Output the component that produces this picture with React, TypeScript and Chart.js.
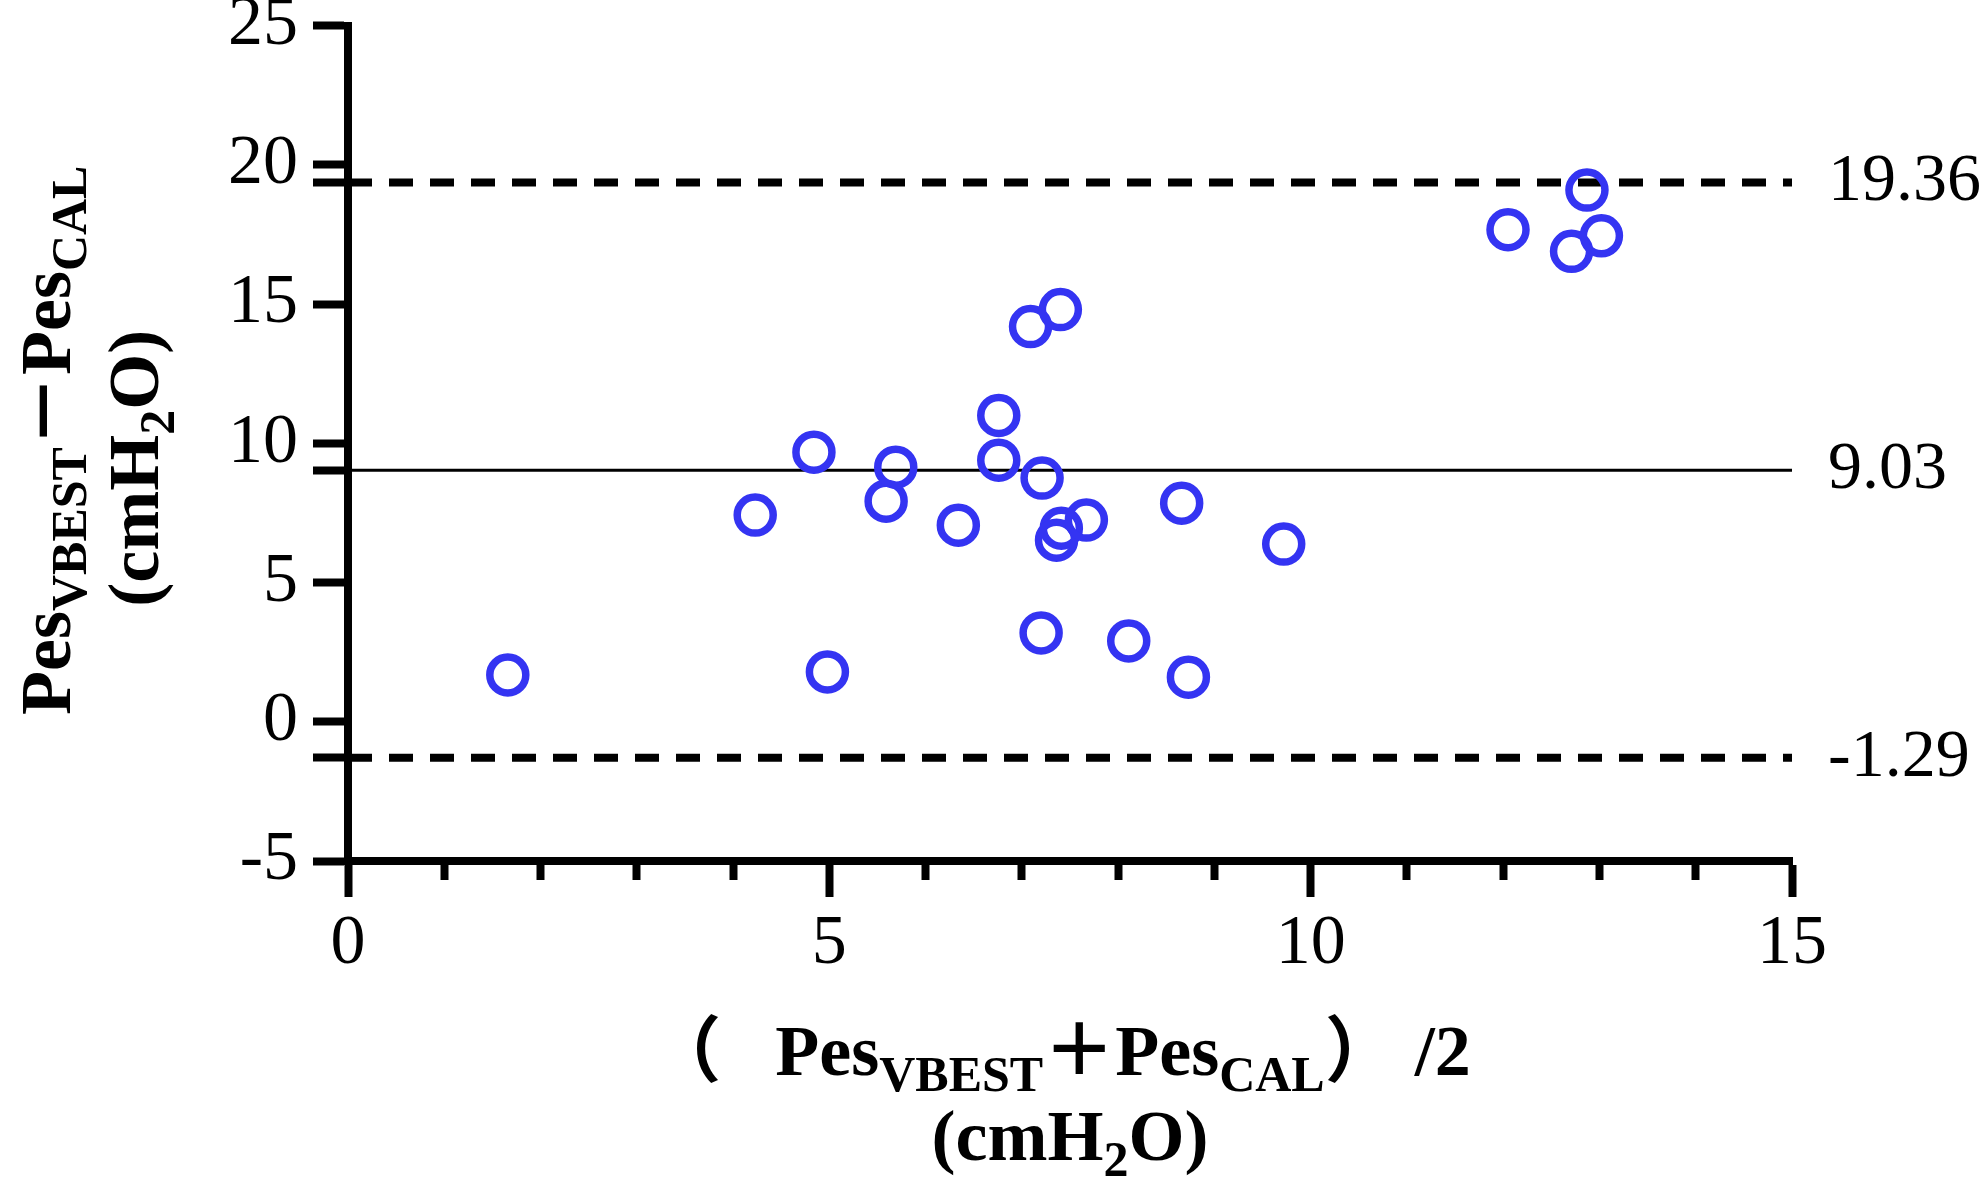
import { useEffect, useRef } from "react"
import { Chart, registerables, type ChartConfiguration, type Plugin } from "chart.js"

Chart.register(...registerables)

// Bland-Altman: mean of the two methods (x) vs their difference (y)
const meanValues = [
  1.66, 4.23, 4.84, 4.98, 5.59, 5.69, 6.34, 6.76, 6.76, 7.09, 7.4, 7.21,
  7.2, 7.41, 7.36, 7.67, 8.11, 8.66, 8.73, 9.72, 12.05, 12.71, 12.87, 13.02,
]
const diffValues = [
  1.68, 7.42, 9.68, 1.79, 7.92, 9.14, 7.06, 11.0, 9.39, 14.19, 14.8, 8.75,
  3.19, 6.95, 6.52, 7.24, 2.9, 7.85, 1.6, 6.38, 17.67, 16.89, 19.09, 17.45,
]

const upperLimit = 19.36
const meanDiff = 9.03
const lowerLimit = -1.29

const xTicks = [0, 1, 2, 3, 4, 5, 6, 7, 8, 9, 10, 11, 12, 13, 14, 15]
const xTickLabels = [0, 5, 10, 15]
const yTickLabels = [-5, 0, 5, 10, 15, 20, 25]
const limitTicks = [lowerLimit, meanDiff, upperLimit]

const serif = "'Liberation Serif', 'Times New Roman', 'Noto Sans CJK SC', serif"
const blue = "#3434f2"

type Seg = { text: string; sub?: boolean }

const xTitleTop: Seg[] = [
  { text: "（   Pes" },
  { text: "VBEST", sub: true },
  { text: "＋Pes" },
  { text: "CAL", sub: true },
  { text: "） /2" },
]
const yTitleTop: Seg[] = [
  { text: "Pes" },
  { text: "VBEST", sub: true },
  { text: "－Pes" },
  { text: "CAL", sub: true },
]
const unitTitle: Seg[] = [{ text: "(cmH" }, { text: "2", sub: true }, { text: "O)" }]

const mainFont = `bold 72px ${serif}`
const subFont = `bold 50px ${serif}`

function drawRich(ctx: CanvasRenderingContext2D, segs: Seg[], cx: number, base: number) {
  let total = 0
  const widths = segs.map((s) => {
    ctx.font = s.sub ? subFont : mainFont
    const w = ctx.measureText(s.text).width
    total += w
    return w
  })
  let x = cx - total / 2
  segs.forEach((s, i) => {
    ctx.font = s.sub ? subFont : mainFont
    ctx.fillText(s.text, x, s.sub ? base + 16 : base)
    x += widths[i]
  })
}

const titlesPlugin: Plugin = {
  id: "axisTitles",
  afterDraw(chart) {
    const { ctx, chartArea } = chart
    const mid = (chartArea.left + chartArea.right) / 2
    const midY = (chartArea.top + chartArea.bottom) / 2
    ctx.save()
    ctx.fillStyle = "#000"
    ctx.textAlign = "left"
    ctx.textBaseline = "alphabetic"
    drawRich(ctx, xTitleTop, mid - 10, chartArea.bottom + 214)
    drawRich(ctx, unitTitle, mid, chartArea.bottom + 299)

    ctx.save()
    ctx.translate(chartArea.left - 278, midY - 3)
    ctx.rotate(-Math.PI / 2)
    drawRich(ctx, yTitleTop, 0, 0)
    ctx.restore()

    ctx.save()
    ctx.translate(chartArea.left - 190, midY + 25)
    ctx.rotate(-Math.PI / 2)
    drawRich(ctx, unitTitle, 0, 0)
    ctx.restore()
    ctx.restore()
  },
}

function limitLine(value: number, width: number, dash: number[]) {
  return {
    type: "scatter" as const,
    data: [
      { x: 0, y: value },
      { x: 15, y: value },
    ],
    showLine: true,
    borderColor: "#000",
    borderWidth: width,
    borderDash: dash,
    pointRadius: 0,
    pointHoverRadius: 0,
  }
}

function BlandAltman() {
  const canvasRef = useRef<HTMLCanvasElement>(null)
  const chartInstance = useRef<Chart | null>(null)

  useEffect(() => {
    if (!canvasRef.current) return
    if (chartInstance.current) chartInstance.current.destroy()

    const tickFont = { family: serif, size: 70 }

    const config: ChartConfiguration = {
      type: "scatter",
      data: {
        datasets: [
          {
            label: "Difference",
            data: meanValues.map((x, i) => ({ x, y: diffValues[i] })),
            pointRadius: 18,
            pointHoverRadius: 18,
            pointBorderWidth: 7.5,
            pointBackgroundColor: "rgba(0,0,0,0)",
            pointBorderColor: blue,
          },
          limitLine(upperLimit, 8, [24, 17]),
          limitLine(meanDiff, 3, []),
          limitLine(lowerLimit, 8, [24, 17]),
        ],
      },
      options: {
        animation: false,
        responsive: true,
        maintainAspectRatio: false,
        events: [],
        layout: { padding: { top: 25, left: 0, right: 0, bottom: 0 } },
        plugins: {
          legend: { display: false },
          tooltip: { enabled: false },
        },
        scales: {
          x: {
            type: "linear",
            min: 0,
            max: 15,
            afterBuildTicks: (s) => {
              s.ticks = xTicks.map((value) => ({ value }))
            },
            afterFit: (s) => {
              s.height = 323
            },
            ticks: {
              autoSkip: false,
              maxRotation: 0,
              padding: 6,
              color: "#000",
              font: tickFont,
              callback: (v) => (xTickLabels.includes(Number(v)) ? String(v) : ""),
            },
            grid: {
              drawOnChartArea: false,
              tickLength: 36,
              tickWidth: 8,
              tickColor: "#000",
              tickBorderDash: (c: any) =>
                c.tick && xTickLabels.includes(c.tick.value) ? [] : [15, 100],
            },
            border: { width: 8, color: "#000" },
          },
          y: {
            type: "linear",
            position: "left",
            min: -5,
            max: 25,
            afterBuildTicks: (s) => {
              s.ticks = [...yTickLabels, ...limitTicks]
                .sort((a, b) => a - b)
                .map((value) => ({ value }))
            },
            afterFit: (s) => {
              s.width = 348
              s.paddingTop = 0
              s.paddingBottom = 0
            },
            ticks: {
              autoSkip: false,
              padding: 15,
              color: "#000",
              font: tickFont,
              callback: (v) => (yTickLabels.includes(Number(v)) ? String(v) : ""),
            },
            grid: {
              drawOnChartArea: false,
              tickLength: 35,
              tickWidth: 8,
              tickColor: "#000",
            },
            border: { width: 8, color: "#000" },
          },
          y2: {
            type: "linear",
            position: "right",
            min: -5,
            max: 25,
            afterBuildTicks: (s) => {
              s.ticks = limitTicks.map((value) => ({ value }))
            },
            afterFit: (s) => {
              s.width = 191
              s.paddingTop = 0
              s.paddingBottom = 0
            },
            ticks: {
              autoSkip: false,
              padding: 28,
              color: "#000",
              font: { family: serif, size: 68 },
              callback: (v) => Number(v).toFixed(2),
            },
            grid: { display: false },
            border: { display: false },
          },
        },
      },
      plugins: [titlesPlugin],
    }

    chartInstance.current = new Chart(canvasRef.current, config)

    return () => {
      if (chartInstance.current) {
        chartInstance.current.destroy()
        chartInstance.current = null
      }
    }
  }, [])

  return (
    <div style={{ position: "absolute", left: 0, top: 0, width: 1983, height: 1184, background: "#fff" }}>
      <canvas ref={canvasRef} />
    </div>
  )
}

export default function App() {
  return <BlandAltman />
}
